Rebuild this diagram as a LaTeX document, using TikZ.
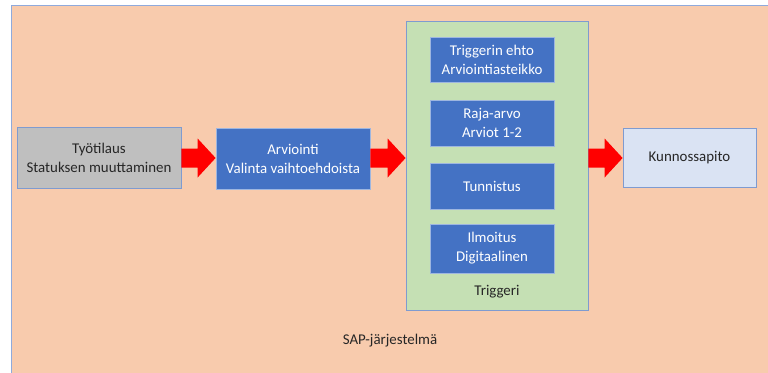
\documentclass[tikz,border=0pt]{standalone}
\usepackage{fontspec}
\setmainfont{Carlito}
\usetikzlibrary{calc}

\definecolor{peach}{HTML}{F8CBAD}
\definecolor{frameline}{HTML}{8FAADC}
\definecolor{officeblue}{HTML}{4472C4}
\definecolor{boxgray}{HTML}{BFBFBF}
\definecolor{trigreen}{HTML}{C5E0B4}
\definecolor{paleblue}{HTML}{DAE3F3}
\definecolor{edgeblue}{HTML}{7F9BD0}
\definecolor{inkdark}{HTML}{262626}

\tikzset{
  stagebox/.style={draw=edgeblue, line width=0.8pt, align=center, inner sep=0pt,
    font=\fontsize{14.9}{19}\selectfont},
  graybox/.style={stagebox, fill=boxgray, text=inkdark},
  bluebox/.style={stagebox, fill=officeblue, text=white, draw=paleblue!60!officeblue},
  lightbox/.style={stagebox, fill=paleblue, text=inkdark},
  groupbox/.style={draw=edgeblue, line width=0.8pt, fill=trigreen},
  plainlabel/.style={text=inkdark, font=\fontsize{14.9}{19}\selectfont},
}

% wide red block arrow between two nodes, along the horizontal line through (axis)
\newcommand\blockarrow[2]{%
  \path (#1.east |- axis) coordinate (ba-s) (#2.west |- axis) coordinate (ba-t);
  \fill[red] ($(ba-s)+(0,-9.5)$) -- ($(ba-t)+(-18,-9.5)$) -- ($(ba-t)+(-18,-19.5)$)
    -- (ba-t) -- ($(ba-t)+(-18,19.5)$) -- ($(ba-t)+(-18,9.5)$) -- ($(ba-s)+(0,9.5)$) -- cycle;
}

\begin{document}
\begin{tikzpicture}[x=1pt, y=-1pt]
\useasboundingbox (0,0) rectangle (768,372);
\fill[white] (0,0) rectangle (768,372);

% system frame
\draw[frameline, line width=0.8pt, fill=peach] (11,5) rectangle (790,390);
\node[plainlabel] (sys) at (390,341) {SAP-järjestelmä};

\coordinate (axis) at (0,158);

% process stages
\node[graybox, minimum width=164pt, minimum height=61pt] (order) at (99,157.5)
  {Työtilaus\\Statuksen muuttaminen};
\node[bluebox, minimum width=154pt, minimum height=61pt] (eval) at (293,158.5)
  {Arviointi\\Valinta vaihtoehdoista};

% trigger group
\node[groupbox, minimum width=182pt, minimum height=289pt] (trig) at (497,165.5) {};
\node[bluebox, minimum width=124pt, minimum height=45pt] (cond) at (492,59.5)
  {Triggerin ehto\\Arviointiasteikko};
\node[bluebox, minimum width=124pt, minimum height=46pt] (limit) at (492,123)
  {Raja-arvo\\Arviot 1-2};
\node[bluebox, minimum width=124pt, minimum height=46pt] (ident) at (492,186)
  {Tunnistus};
\node[bluebox, minimum width=124pt, minimum height=49pt] (notice) at (492,248.5)
  {Ilmoitus\\Digitaalinen};
\node[plainlabel] (triglabel) at (497,292) {Triggeri};

\node[lightbox, minimum width=133pt, minimum height=59pt] (maint) at (689.5,157.5)
  {Kunnossapito};

% flow arrows
\blockarrow{order}{eval}
\blockarrow{eval}{trig}
\blockarrow{trig}{maint}
\end{tikzpicture}
\end{document}
